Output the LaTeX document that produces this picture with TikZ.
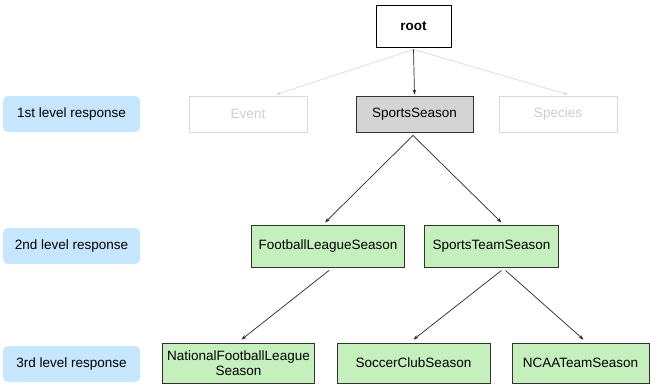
\documentclass[tikz,border=0pt]{standalone}
\usepackage{fontspec}
\setmainfont{Liberation Sans}
\usetikzlibrary{arrows.meta}
\definecolor{greenfill}{RGB}{198,239,190}
\definecolor{bluefill}{RGB}{197,230,253}
\definecolor{grayfill}{RGB}{212,212,212}
\definecolor{fadeline}{RGB}{218,218,218}
\definecolor{fadetext}{RGB}{205,205,205}
\definecolor{edgegray}{RGB}{50,50,50}
\tikzset{
  box/.style={draw=edgegray, line width=0.9pt, inner sep=0pt, align=center,
    font=\fontsize{13.5}{15}\selectfont},
  greenbox/.style={box, fill=greenfill},
  fadebox/.style={box, draw=fadeline, text=fadetext, fill=white},
  lvl/.style={fill=bluefill, rounded corners=5pt, inner sep=0pt,
    minimum width=137pt, minimum height=36pt, font=\fontsize{13.5}{15}\selectfont},
  arr/.style={-{Stealth[length=5pt,width=3.5pt]}, line width=0.7pt, draw=black!85},
  fadearr/.style={-{Stealth[length=5pt,width=3.5pt]}, line width=0.7pt, draw=fadeline}
}
\begin{document}
\begin{tikzpicture}[x=1pt,y=-1pt]
\useasboundingbox (0,0) rectangle (660,386);
% level labels
\node[lvl] (l1) at (71.5,114) {1st level response};
\node[lvl] (l2) at (71.5,246) {2nd level response};
\node[lvl] (l3) at (71.5,364) {3rd level response};
% nodes
\node[box, draw=black, fill=white, minimum width=75pt, minimum height=42pt, font=\bfseries\fontsize{13.5}{15}\selectfont] (root) at (413.5,26) {root};
\node[fadebox, minimum width=118pt, minimum height=36pt] (event) at (248,114) {Event};
\node[box, fill=grayfill, minimum width=117pt, minimum height=36pt] (ss) at (414.5,114) {SportsSeason};
\node[fadebox, minimum width=118pt, minimum height=36pt] (species) at (558,114) {Species};
\node[greenbox, minimum width=153pt, minimum height=42pt] (fls) at (328,246) {FootballLeagueSeason};
\node[greenbox, minimum width=134pt, minimum height=42pt] (sts) at (491.5,246) {SportsTeamSeason};
\node[greenbox, minimum width=152pt, minimum height=40pt] (nfl) at (238.5,363) {NationalFootballLeague\\Season};
\node[greenbox, minimum width=153pt, minimum height=40pt] (scs) at (413.5,363) {SoccerClubSeason};
\node[greenbox, minimum width=137pt, minimum height=40pt] (ncaa) at (580.5,363) {NCAATeamSeason};
% connectors
\draw[fadearr] ([yshift=-2pt]root.south) -- ([xshift=28pt,yshift=1pt]event.north);
\draw[fadearr] ([yshift=-2pt]root.south) -- ([xshift=10pt,yshift=1pt]species.north);
\draw[arr] ([yshift=-2pt]root.south) -- ([yshift=1pt]ss.north);
\draw[arr] ([xshift=-1.5pt,yshift=-3pt]ss.south) -- ([xshift=-3pt,yshift=2pt]fls.north);
\draw[arr] ([xshift=-1.5pt,yshift=-3pt]ss.south) -- ([xshift=10pt,yshift=2pt]sts.north);
\draw[arr] ([xshift=1pt,yshift=-3pt]fls.south) -- ([xshift=3pt,yshift=3pt]nfl.north);
\draw[arr] ([xshift=10pt,yshift=-3pt]sts.south) -- ([xshift=0pt,yshift=3pt]scs.north);
\draw[arr] ([xshift=14pt,yshift=-3pt]sts.south) -- ([xshift=3pt,yshift=3pt]ncaa.north);
\end{tikzpicture}
\end{document}
